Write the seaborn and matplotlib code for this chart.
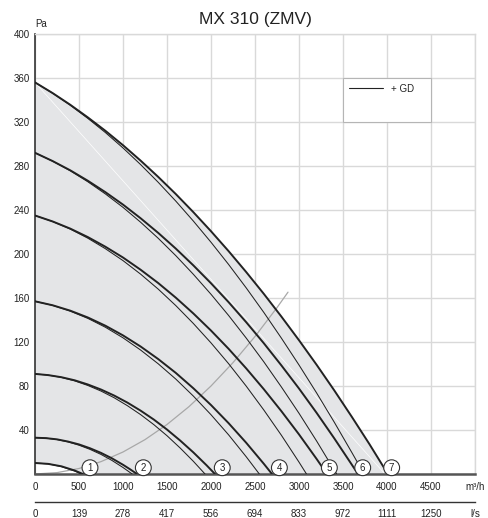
import matplotlib
matplotlib.use('Agg')
import seaborn as sns
from matplotlib import pyplot as plt
from matplotlib.patches import Rectangle
from matplotlib.lines import Line2D

# Fan curves: flow in m3/h, pressure in Pa
# thick line = fan alone, thin line = fan + GD
c1_flow = [0, 150, 300, 450, 545]
c1_pa = [10, 9.2, 7.0, 3.2, 0]
c1gd_flow = [0, 150, 300, 450, 526]
c1gd_pa = [10, 9.2, 6.7, 2.7, 0]

c2_flow = [0, 125, 250, 375, 500, 625, 750, 875, 1000, 1080, 1159]
c2_pa = [33, 32.6, 31.5, 29.5, 26.9, 23.4, 19.2, 14.2, 8.4, 4.3, 0]
c2gd_flow = [0, 125, 250, 375, 500, 625, 750, 875, 1000, 1104]
c2gd_pa = [33, 32.6, 31.3, 29.2, 26.2, 22.4, 17.8, 12.3, 5.9, 0]

c3_flow = [0, 150, 300, 450, 600, 750, 900, 1050, 1200, 1350, 1500, 1650, 1800, 1950, 2045]
c3_pa = [91, 89.9, 88, 85.2, 81.4, 76.8, 71.3, 64.9, 57.6, 49.5, 40.4, 30.4, 19.6, 7.9, 0]
c3gd_flow = [0, 150, 300, 450, 600, 750, 900, 1050, 1200, 1350, 1500, 1650, 1800, 1932]
c3gd_pa = [91, 89.9, 87.8, 84.7, 80.5, 75.4, 69.3, 62.1, 54, 44.9, 34.8, 23.6, 11.5, 0]

c4_flow = [0, 200, 400, 600, 800, 1000, 1200, 1400, 1600, 1800, 2000, 2200, 2400, 2600, 2693]
c4_pa = [157, 153.4, 148.5, 142.3, 134.8, 126, 115.9, 104.5, 91.9, 77.9, 62.7, 46.2, 28.4, 9.3, 0]
c4gd_flow = [0, 200, 400, 600, 800, 1000, 1200, 1400, 1600, 1800, 2000, 2200, 2400, 2549]
c4gd_pa = [157, 153.3, 148.1, 141.5, 133.4, 123.8, 112.7, 100.2, 86.3, 70.8, 53.9, 35.6, 15.7, 0]

c5_flow = [0, 200, 400, 600, 800, 1000, 1200, 1400, 1600, 1800, 2000, 2200, 2400, 2600, 2800,
           3000, 3200, 3318]
c5_pa = [235, 229.6, 223.1, 215.4, 206.6, 196.8, 185.7, 173.6, 160.3, 145.9, 130.4, 113.8, 96,
         77.1, 57.1, 36, 13.7, 0]
c5gd_flow = [0, 200, 400, 600, 800, 1000, 1200, 1400, 1600, 1800, 2000, 2200, 2400, 2600, 2800,
             3000, 3085]
c5gd_pa = [235, 229.5, 222.7, 214.4, 204.8, 194, 181.7, 168.1, 153.1, 136.8, 119.2, 100.3, 79.9,
           58.2, 35.2, 10.8, 0]

c6_flow = [0, 200, 400, 600, 800, 1000, 1200, 1400, 1600, 1800, 2000, 2200, 2400, 2600, 2800,
           3000, 3200, 3400, 3600, 3670]
c6_pa = [292, 284.5, 276.1, 266.6, 256.2, 244.9, 232.5, 219.2, 204.9, 189.6, 173.4, 156.2, 138,
         118.9, 98.7, 77.7, 55.6, 32.5, 8.5, 0]
c6gd_flow = [0, 200, 400, 600, 800, 1000, 1200, 1400, 1600, 1800, 2000, 2200, 2400, 2600, 2800,
             3000, 3200, 3427]
c6gd_pa = [292, 284.4, 275.7, 265.7, 254.6, 242.4, 228.9, 214.3, 198.5, 181.5, 163.4, 144.1,
           123.6, 102, 79.1, 55.2, 30, 0]

c7_flow = [0, 200, 400, 600, 800, 1000, 1200, 1400, 1600, 1800, 2000, 2200, 2400, 2600, 2800,
           3000, 3200, 3400, 3600, 3800, 4010]
c7_pa = [356, 346.3, 335.7, 324.2, 312, 298.9, 284.9, 270.1, 254.5, 238, 220.7, 202.6, 183.6,
         163.8, 143.1, 121.6, 99.3, 76.1, 52, 27.2, 0]
c7gd_flow = [0, 200, 400, 600, 800, 1000, 1200, 1400, 1600, 1800, 2000, 2200, 2400, 2600, 2800,
             3000, 3200, 3400, 3600, 3740]
c7gd_pa = [356, 346.2, 335.3, 323.3, 310.4, 296.4, 281.3, 265.2, 248.1, 229.9, 210.7, 190.5,
           169.2, 146.9, 123.5, 99.1, 73.7, 47.2, 19.6, 0]

# system curve (grey parabola)
sys_flow = [0, 250, 500, 750, 1000, 1250, 1500, 1750, 2000, 2250, 2500, 2750, 2875]
sys_pa = [0, 1.25, 5, 11.25, 20, 31.25, 45, 61.25, 80, 101.25, 125, 151.25, 165.3]

# white seam across the shaded area
seam_flow = [0, 3977]
seam_pa = [356, 0]

curve_ids = ['1', '2', '3', '4', '5', '6', '7']
id_flow = [625, 1231, 2128, 2777, 3345, 3724, 4053]

m3h_labels = ['0', '500', '1000', '1500', '2000', '2500', '3000', '3500', '4000', '4500', 'm³/h']
ls_labels = ['0', '139', '278', '417', '556', '694', '833', '972', '1111', '1250', 'l/s']
pa_labels = ['', '40', '80', '120', '160', '200', '240', '280', '320', '360', '400']

sns.set_style('white')
plt.rcParams['font.family'] = ['Liberation Sans', 'DejaVu Sans']

fig = plt.figure(figsize=(4.89, 5.18), dpi=100)
L, W = 35 / 489, 440 / 489
ax = fig.add_axes([L, 44 / 518, W, 440 / 518])

grid_col = '#d9d9d9'
ink = '#222222'

# shaded operating range between the lowest and highest curve
ax.fill(c7_flow + c1gd_flow[::-1], c7_pa + c1gd_pa[::-1], color='#e4e5e7', lw=0, zorder=1)
sns.lineplot(x=seam_flow, y=seam_pa, ax=ax, color='white', lw=0.5, sort=False, estimator=None, zorder=2)

sns.lineplot(x=sys_flow, y=sys_pa, ax=ax, color='#a8a8a8', lw=0.9, sort=False, estimator=None, zorder=2)

thick = [(c1_flow, c1_pa), (c2_flow, c2_pa), (c3_flow, c3_pa), (c4_flow, c4_pa),
         (c5_flow, c5_pa), (c6_flow, c6_pa), (c7_flow, c7_pa)]
thin = [(c1gd_flow, c1gd_pa), (c2gd_flow, c2gd_pa), (c3gd_flow, c3gd_pa), (c4gd_flow, c4gd_pa),
        (c5gd_flow, c5gd_pa), (c6gd_flow, c6gd_pa), (c7gd_flow, c7gd_pa)]
for fx, fy in thin:
    sns.lineplot(x=fx, y=fy, ax=ax, color=ink, lw=0.75, sort=False, estimator=None, zorder=3)
for fx, fy in thick:
    sns.lineplot(x=fx, y=fy, ax=ax, color=ink, lw=1.4, sort=False, estimator=None, zorder=3)

# numbered circles at the end of each curve
for cid, fx in zip(curve_ids, id_flow):
    ax.text(fx, 5.7, cid, ha='center', va='center', fontsize=7, color=ink, zorder=6,
            bbox=dict(boxstyle='circle,pad=0.3', fc='white', ec='#333333', lw=0.8))

# legend box
ax.add_patch(Rectangle((3500, 320), 1000, 40, fc='white', ec='#b5b5b5', lw=0.8, zorder=4))
ax.legend(handles=[Line2D([], [], color=ink, lw=0.8)], labels=['+ GD'], loc='upper left',
          bbox_to_anchor=(3500, 360), bbox_transform=ax.transData, frameon=False, fontsize=7,
          handlelength=3.5, handletextpad=0.8, borderaxespad=0.2, borderpad=0.4)

ax.set_xlim(0, 5000)
ax.set_ylim(0, 400)
ax.set_xticks(range(0, 5001, 500))
ax.set_xticklabels(m3h_labels)
ax.set_yticks(range(0, 401, 40))
ax.set_yticklabels(pa_labels)
ax.grid(True, color=grid_col, lw=1.0)
ax.set_axisbelow(True)
ax.tick_params(axis='both', length=0, labelsize=7, colors='#222222')
ax.tick_params(axis='x', pad=6)
ax.tick_params(axis='y', pad=4)
ax.set_xlabel('')
ax.set_ylabel('')
for s in ['top', 'right']:
    ax.spines[s].set_color(grid_col)
    ax.spines[s].set_linewidth(1.0)
ax.spines['left'].set_color('#333333')
ax.spines['left'].set_linewidth(1.2)
ax.spines['bottom'].set_color('#555555')
ax.spines['bottom'].set_linewidth(1.8)

ax.set_title('MX 310 (ZMV)', fontsize=12.5, pad=7, color='#222222')
ax.text(0, 1.012, 'Pa', transform=ax.transAxes, fontsize=7, ha='left', va='bottom', color='#222222')

# second flow scale in l/s
ax2 = fig.add_axes([L, 16 / 518, W, 0.0001])
ax2.set_xlim(0, 5000)
ax2.set_yticks([])
ax2.set_xticks(range(0, 5001, 500))
ax2.set_xticklabels(ls_labels)
ax2.tick_params(axis='x', direction='in', length=3, width=0.8, labelsize=7, pad=5, colors='#222222')
for s in ['top', 'left', 'right']:
    ax2.spines[s].set_visible(False)
ax2.spines['bottom'].set_color('#333333')
ax2.spines['bottom'].set_linewidth(1.0)
ax2.patch.set_alpha(0)

fig.savefig('out.png', dpi=100)
